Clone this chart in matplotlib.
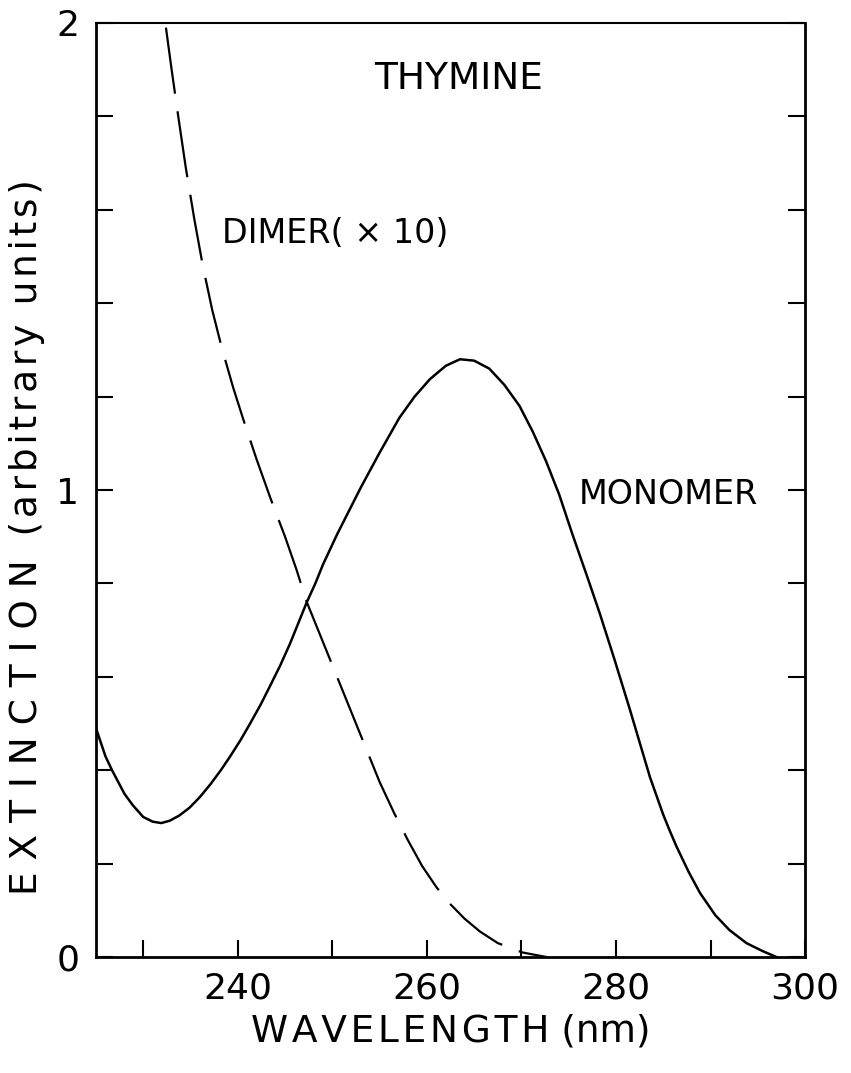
import numpy as np
from matplotlib import pyplot as plt
from matplotlib.ticker import FixedLocator

# values
mono_wl = [225.0, 226.0, 226.7, 228.0, 228.9, 230.0, 231.0, 231.9, 232.8, 233.8,
           234.9, 236.0, 237.1, 238.2, 239.2, 240.3, 241.3, 242.4, 243.4, 244.5,
           245.5, 246.4, 247.3, 248.2, 249.0, 250.5, 251.5, 253.0, 255.0, 257.1,
           258.7, 260.3, 262.0, 263.5, 265.0, 266.6, 268.2, 269.8, 271.2, 272.6,
           274.0, 275.4, 276.9, 278.3, 279.8, 281.4, 282.5, 283.6, 284.3, 285.0,
           285.7, 286.4, 287.7, 288.9, 290.5, 292.0, 293.8, 295.5, 297.0]
mono_ext = [0.49, 0.43, 0.40, 0.35, 0.325, 0.30, 0.29, 0.287, 0.292, 0.303,
            0.32, 0.343, 0.37, 0.40, 0.43, 0.465, 0.50, 0.54, 0.58, 0.625,
            0.67, 0.715, 0.76, 0.80, 0.84, 0.905, 0.945, 1.005, 1.08, 1.155,
            1.20, 1.237, 1.266, 1.28, 1.277, 1.26, 1.225, 1.18, 1.125, 1.062,
            0.99, 0.905, 0.818, 0.735, 0.64, 0.535, 0.46, 0.385, 0.345, 0.305,
            0.27, 0.237, 0.182, 0.137, 0.09, 0.058, 0.03, 0.013, 0.0]

dimer_wl = [232.4, 233.0, 233.7, 234.5, 235.4, 236.3, 237.3, 238.3, 239.5, 240.6,
            242.0, 243.5, 245.0, 246.2, 247.3, 248.5, 250.0, 251.7, 253.4, 255.0,
            256.5, 258.0, 259.5, 261.0, 262.4, 264.0, 265.6, 267.5, 270.1, 272.7]
dimer_ext = [1.99, 1.90, 1.80, 1.69, 1.58, 1.48, 1.385, 1.305, 1.22, 1.15,
             1.065, 0.98, 0.90, 0.83, 0.76, 0.70, 0.625, 0.54, 0.455, 0.375,
             0.31, 0.25, 0.195, 0.15, 0.115, 0.082, 0.055, 0.03, 0.01, 0.0]

xticks = [230, 240, 250, 260, 270, 280, 290, 300]
xticklabels = ['', '240', '', '260', '', '280', '', '300']
yticks = [0, 0.2, 0.4, 0.6, 0.8, 1.0, 1.2, 1.4, 1.6, 1.8, 2.0]
yticklabels = ['0', '', '', '', '', '1', '', '', '', '', '2']


def spaced(s, sep):
    return sep.join(s)


fig = plt.figure(figsize=(8.51, 10.73), dpi=100)
ax = fig.add_axes([0.1128, 0.108, 0.8332, 0.8706])

ax.plot(mono_wl, mono_ext, c='k', lw=1.8)
ax.plot(dimer_wl, dimer_ext, c='k', lw=1.6, dashes=(30, 8))

ax.set_xlim(225, 300)
ax.set_ylim(0, 2)
ax.xaxis.set_major_locator(FixedLocator(xticks))
ax.set_xticklabels(xticklabels)
ax.yaxis.set_major_locator(FixedLocator(yticks))
ax.set_yticklabels(yticklabels)
ax.tick_params(direction='in', length=12, width=1.5, labelsize=26, top=False, right=True)
ax.tick_params(axis='x', pad=10)
ax.tick_params(axis='y', pad=12)
for sp in ax.spines.values():
    sp.set_linewidth(2)
ax.spines['top'].set_linewidth(1.5)

ax.text(263.4, 1.88, 'THYMINE', fontsize=27, ha='center', va='center')
ax.text(238.3, 1.55, 'DIMER( \u00d7 10)', fontsize=24, ha='left', va='center')
ax.text(276.1, 0.99, 'MONOMER', fontsize=24, ha='left', va='center')

ax.set_xlabel(spaced('WAVELENGTH', '\u200a') + ' (nm)', fontsize=27, labelpad=6)
ax.set_ylabel(spaced('EXTINCTION', ' ') + '  ' + spaced('(arbitrary units)', '\u200a'),
              fontsize=27)
ax.yaxis.set_label_coords(-0.072, 0.45)

fig.savefig('out.png')
